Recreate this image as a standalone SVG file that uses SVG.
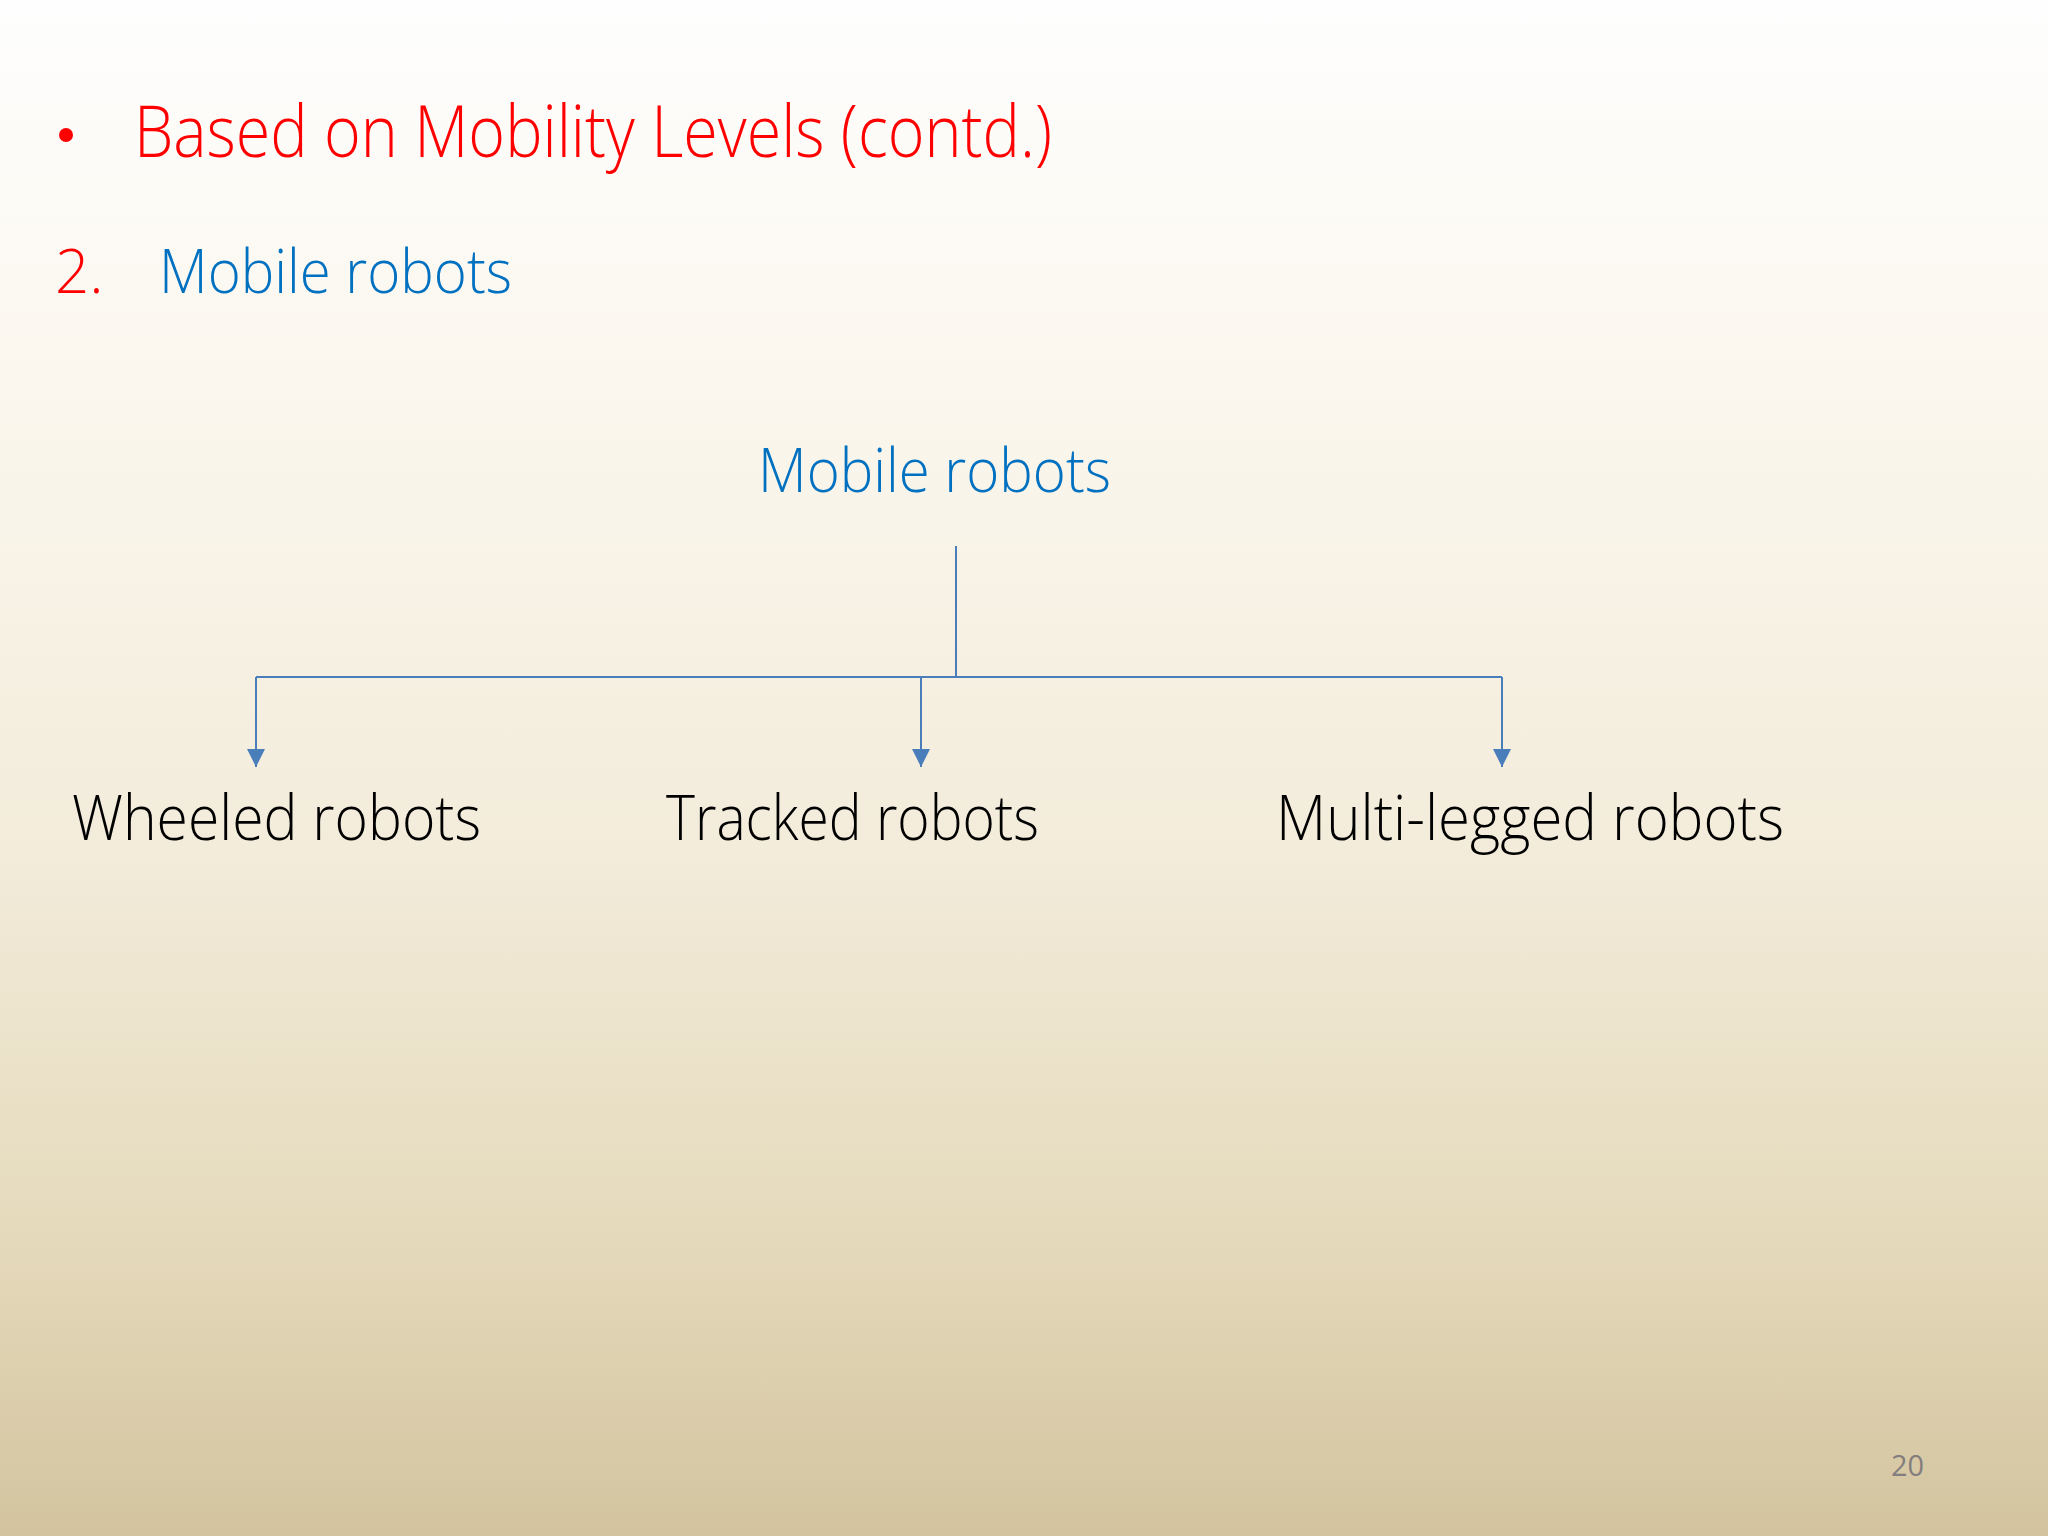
<svg xmlns="http://www.w3.org/2000/svg" width="2048" height="1536" viewBox="0 0 2048 1536">
<defs>
<linearGradient id="bg" x1="0" y1="0" x2="0" y2="1">
<stop offset="0" stop-color="#fefefe"/>
<stop offset="0.25" stop-color="#fbf7ee"/>
<stop offset="0.55" stop-color="#f3ecdb"/>
<stop offset="0.8" stop-color="#e5dabc"/>
<stop offset="1" stop-color="#d3c49f"/>
</linearGradient>
<marker id="arr" markerUnits="userSpaceOnUse" markerWidth="18" markerHeight="18" viewBox="0 0 16 16" refX="16" refY="8" orient="auto">
<path d="M0,0 L16,8 L0,16 z" fill="#4a7ebb"/>
</marker>
<style>
text{font-family:"Segoe UI","Open Sans","Noto Sans",sans-serif;font-weight:300}
.red{fill:#ff0000}
.blue{fill:#0070c0}
.blk{fill:#000000}
.conn{stroke:#4a7ebb;stroke-width:2;fill:none}
</style>
</defs>
<rect x="0" y="0" width="2048" height="1536" fill="url(#bg)"/>
<g id="heading">
<circle cx="66" cy="135" r="7" fill="#ff0000"/>
<text class="red" x="134" y="157" font-size="71" textLength="918" lengthAdjust="spacingAndGlyphs">Based on Mobility Levels (contd.)</text>
<text class="red" x="55" y="293" font-size="60">2.</text>
<text class="blue" x="159" y="293" font-size="60" textLength="353" lengthAdjust="spacingAndGlyphs">Mobile robots</text>
</g>
<g id="connectors">
<line class="conn" x1="956" y1="546" x2="956" y2="677"/>
<line class="conn" x1="256" y1="677" x2="1502" y2="677"/>
<line class="conn" x1="256" y1="677" x2="256" y2="767" marker-end="url(#arr)"/>
<line class="conn" x1="921" y1="677" x2="921" y2="767" marker-end="url(#arr)"/>
<line class="conn" x1="1502" y1="677" x2="1502" y2="767" marker-end="url(#arr)"/>
</g>
<g id="node-root">
<text class="blue" x="758" y="492" font-size="61" textLength="353" lengthAdjust="spacingAndGlyphs">Mobile robots</text>
</g>
<g id="node-wheeled">
<text class="blk" x="72" y="840" font-size="63" textLength="409" lengthAdjust="spacingAndGlyphs">Wheeled robots</text>
</g>
<g id="node-tracked">
<text class="blk" x="666" y="840" font-size="63" textLength="373" lengthAdjust="spacingAndGlyphs">Tracked robots</text>
</g>
<g id="node-legged">
<text class="blk" x="1276" y="840" font-size="63" textLength="508" lengthAdjust="spacingAndGlyphs">Multi-legged robots</text>
</g>
<g id="page-number">
<text x="1891" y="1476" font-size="30" fill="#847d7d" style="font-weight:400" textLength="33" lengthAdjust="spacingAndGlyphs">20</text>
</g>
</svg>
